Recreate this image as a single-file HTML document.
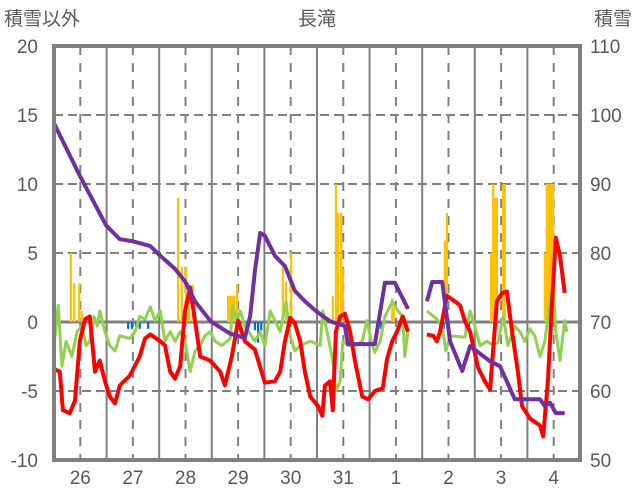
<!DOCTYPE html>
<html><head><meta charset="utf-8">
<style>
body{margin:0;background:#fff;}
svg{display:block;font-family:"Liberation Sans","Noto Sans CJK JP",sans-serif;}
</style></head>
<body>
<svg id="chart" width="636" height="501" viewBox="0 0 636 501" xmlns="http://www.w3.org/2000/svg">
<g id="grid"></g>
<g id="bars"></g>
<g id="lines"></g>
<rect x="54" y="46" width="526" height="414" fill="none" stroke="#808080" stroke-width="4"/>
<g id="labels" fill="#595959" font-size="19">
<text x="4" y="25">積雪以外</text>
<text x="317" y="25" text-anchor="middle">長滝</text>
<text x="632" y="25" text-anchor="end">積雪</text>
</g>
</svg>
<script>
const dayLabels=["26","27","28","29","30","31","1","2","3","4"];
const leftTicks=[-10,-5,0,5,10,15,20];
const rightTicks=["50","60","70","80","90","100","110"];
const purpleT=[0,.49,.99,1.25,1.5,1.83,2.02,2.3,2.49,2.68,2.98,3.35,3.63,3.73,3.82,3.92,4.01,4.2,4.39,4.58,4.77,4.98,5.25,5.53,5.59,6.1,6.29,6.48,6.73,null,7.09,7.19,7.38,7.53,7.76,7.91,8.29,8.48,8.76,9.24,9.33,9.43,9.54,9.71];
const purpleV=[98.8,91.2,84.0,82.0,81.7,81.0,79.6,77.7,75.9,73.0,70.1,68.3,67.7,70.9,77.4,82.9,82.5,79.6,78.1,74.5,73.0,71.6,70.1,69.4,66.8,66.8,75.7,75.7,71.9,null,73.0,75.8,75.8,67.2,62.9,66.5,64.3,63.6,58.8,58.8,57.8,58.3,56.8,56.8];
const redT=[0,.11,.17,.3,.4,.49,.59,.68,.78,.87,.97,1.06,1.16,1.25,1.44,1.63,1.73,1.83,2.02,2.11,2.21,2.3,2.4,2.49,2.59,2.68,2.78,2.97,3.16,3.25,3.38,3.5,3.63,3.82,4.01,4.2,4.3,4.39,4.49,4.58,4.68,4.77,4.87,5.02,5.1,5.15,5.25,5.3,5.36,5.44,5.53,5.63,5.72,5.86,5.97,6.1,6.25,6.33,6.43,6.52,6.63,6.73,null,7.09,7.21,7.28,7.34,7.47,7.62,7.72,7.81,7.91,8.06,8.19,8.29,8.42,8.52,8.61,8.71,8.82,8.9,9.05,9.24,9.3,9.39,9.47,9.54,9.62,9.71];
const redV=[-3.4,-3.6,-6.4,-6.6,-5.7,-1.4,0.2,0.4,-3.6,-2.8,-4.3,-5.4,-5.9,-4.6,-3.9,-2.5,-1.2,-0.9,-1.4,-1.7,-3.6,-4.1,-3.2,0.8,2.5,0.1,-2.5,-2.8,-3.6,-4.6,-2.5,0.1,-1.4,-2.0,-4.4,-4.3,-3.6,-1.4,0.3,-0.1,-1.4,-3.6,-5.4,-6.1,-6.8,-4.6,-4.3,-6.4,-0.7,0.4,0.6,-0.7,-2.8,-5.4,-5.6,-5.0,-4.8,-2.7,-1.4,-0.7,0.4,-0.7,null,-0.9,-1.0,-1.4,-0.7,1.9,1.5,1.2,0.1,-0.7,-3.3,-4.3,-4.9,1.5,2.1,2.2,-0.7,-3.6,-6.1,-7.0,-7.5,-8.3,-4.3,1.5,6.1,4.8,2.1];
const greenT=[0,.08,.15,.23,.34,.44,.53,.61,.68,.76,.82,.87,.97,1.06,1.16,1.25,1.44,1.54,1.63,1.73,1.83,1.92,2.02,2.11,2.21,2.3,2.4,2.49,2.59,2.68,2.78,2.87,2.97,3.06,3.19,3.35,3.4,3.48,3.54,3.63,3.82,3.92,4.01,4.11,4.2,4.3,4.41,4.49,4.58,4.68,4.87,5.06,5.11,5.19,5.3,5.36,5.44,5.49,5.59,5.72,5.86,5.95,6.03,6.1,6.2,6.29,6.43,6.54,6.63,6.67,6.73,null,7.09,7.28,7.38,7.45,7.53,7.81,7.91,8.0,8.1,8.23,8.35,8.44,8.54,8.63,8.76,8.86,8.95,9.05,9.14,9.24,9.33,9.43,9.49,9.54,9.62,9.71,9.75];
const greenV=[-1.7,1.2,-3.2,-1.4,-2.5,-0.7,-0.3,-1.7,-1.4,0.4,-0.3,0.8,-0.7,-1.7,-2.1,-1.0,-1.2,-0.7,0.4,0.2,1.1,0.1,0.8,-1.4,-0.7,-1.4,-0.7,-1.4,-3.6,-2.1,-1.7,-1.0,-0.7,-1.4,-1.7,-1.2,1.2,0.1,0.8,-0.3,-1.4,-0.7,-1.7,0.8,0.1,-0.7,1.5,-1.0,-2.1,-1.7,-1.4,-1.7,0.8,-0.7,-2.8,-5.0,-4.3,-1.4,-1.7,-1.7,-1.4,0.1,-1.4,-2.2,-1.4,0.4,1.5,0.8,0.4,-2.5,-0.7,null,0.8,0.2,-0.3,-2.1,-1.0,-1.1,0.8,-0.3,-1.7,-1.4,-1.7,-1.5,0.4,-1.7,-0.3,-0.7,-1.4,-0.5,-1.0,-2.5,-1.4,1.5,2.6,-0.7,-2.8,0.1,-0.7];
const barT=[.32,.38,.48,.53,2.36,2.43,2.51,2.57,2.64,3.31,3.35,3.39,3.43,3.48,4.35,4.41,4.51,5.3,5.36,5.4,5.46,5.49,6.43,6.46,7.43,7.47,8.31,8.35,8.38,8.42,8.54,8.57,9.33,9.37,9.41,9.45,9.49];
const barV=[5.0,2.8,2.8,0.8,9.0,4.0,3.9,2.7,2.7,1.9,1.9,1.9,1.9,2.7,4.0,2.9,5.0,1.9,10,7.9,7.9,3.9,1.7,1.0,5.9,7.9,5.0,10,9.0,9.0,10,10,5.0,10,10,10,10];
const negT=[1.41,1.48,1.56,1.63,1.79,3.82,3.88,3.94,6.16,6.22,7.34,7.41,7.83,7.89];
const negV=[-0.5,-0.5,-0.5,-0.5,-0.5,-0.6,-1.5,-0.6,-0.5,-0.5,-0.5,-0.5,-0.6,-0.6];

const X0=54,X1=580,Y0=460,Y1=46;
const xs=d=>X0+d*(X1-X0)/10;
const yl=v=>Y0-(v+10)*(Y0-Y1)/30;
const yr=v=>Y0-(v-50)*(Y0-Y1)/60;
const NS="http://www.w3.org/2000/svg";
function mk(tag,parent){const e=document.createElementNS(NS,tag);parent.appendChild(e);return e;}
const grid=document.getElementById('grid'),bars=document.getElementById('bars'),lines=document.getElementById('lines'),labels=document.getElementById('labels');
leftTicks.forEach((v,i)=>{
  const y=yl(v);
  if(v>-10&&v<20){const l=mk('line',grid);
  
  
  l.setAttribute('x1',X0);l.setAttribute('x2',X1);l.setAttribute('y1',y);l.setAttribute('y2',y);
  l.setAttribute('stroke','#808080');l.setAttribute('stroke-width',v===0?3:2);
  if(v!==0)l.setAttribute('stroke-dasharray','9,5');}
  const t=mk('text',labels);
  
  
  t.setAttribute('x',38);t.setAttribute('y',y+7);t.setAttribute('text-anchor','end');t.textContent=String(v);
  const r=mk('text',labels);
  
  
  r.setAttribute('x',590);r.setAttribute('y',y+7);r.textContent=rightTicks[i];
});
dayLabels.forEach((lab,i)=>{
  if(i>0){const l=mk('line',grid);
  
  
  l.setAttribute('x1',xs(i));l.setAttribute('x2',xs(i));l.setAttribute('y1',Y1);l.setAttribute('y2',Y0);
  l.setAttribute('stroke','#808080');l.setAttribute('stroke-width',2);}
  const m=mk('line',grid);
  
  
  m.setAttribute('x1',xs(i+.5));m.setAttribute('x2',xs(i+.5));m.setAttribute('y1',Y1);m.setAttribute('y2',Y0);
  m.setAttribute('stroke','#808080');m.setAttribute('stroke-width',2);m.setAttribute('stroke-dasharray','9,8');
  const t=mk('text',labels);
  
  
  t.setAttribute('x',xs(i+.5));t.setAttribute('y',484);t.setAttribute('text-anchor','middle');t.textContent=lab;
});
const bw=(X1-X0)/240;
function drawBars(T,V,color,name){T.forEach((d,i)=>{
  const r=mk('rect',bars);
  
  
  const y0=yl(0),y=yl(V[i]);
  r.setAttribute('x',xs(d)-bw/2);r.setAttribute('width',bw);
  r.setAttribute('y',Math.min(y,y0));r.setAttribute('height',Math.abs(y-y0));r.setAttribute('fill',color);
});}
drawBars(barT,barV,'#FFC000','snowfall-bar');
drawBars(negT,negV,'#0070C0','negative-bar');
function drawLine(T,V,ys,color,name){
  let d='',pen=false;
  T.forEach((t,i)=>{if(t===null||V[i]===null){pen=false;return;}
    d+=(pen?'L':'M')+xs(t).toFixed(1)+','+ys(V[i]).toFixed(1);pen=true;});
  const p=mk('path',lines);
  
  
  p.setAttribute('d',d);p.setAttribute('fill','none');p.setAttribute('stroke',color);
  p.setAttribute('stroke-width',name==='green-line'?3:4);p.setAttribute('stroke-linejoin','round');
}
drawLine(greenT,greenV,yl,'#92D050','green-line');
drawLine(redT,redV,yl,'#FF0000','red-line');
drawLine(purpleT,purpleV,yr,'#7030A0','snow-depth-line');
</script>
</body></html>
